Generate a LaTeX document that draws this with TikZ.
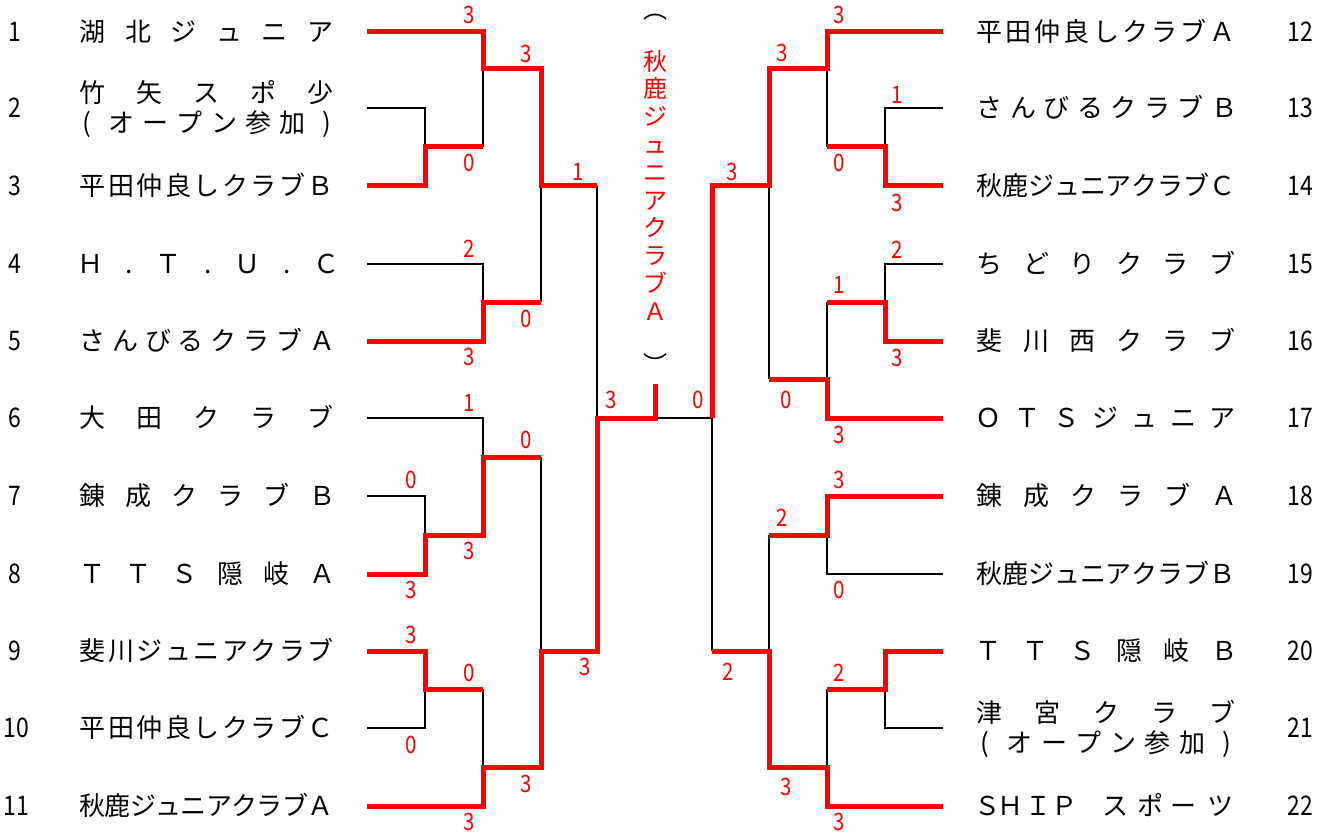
\documentclass[tikz,border=0pt]{standalone}
\usepackage{fontspec}
\setmainfont{Noto Sans CJK JP}
\newfontfamily\digitfont[FakeStretch=0.85]{Noto Sans CJK JP}
\newcommand\spreadname[5]{%
  \foreach \cc [count=\ci] in {#5}{\xdef\nch{\ci}}%
  \foreach \cc [count=\ci] in {#5}{%
    \node[nm] (#1-\ci) at ({#2+(#3-#2)*(\ci-1)/(\nch-1)}, #4) {\cc};}%
}
\tikzset{
  nm/.style={inner sep=0pt, text height=22.9pt, text depth=3.1pt, font=\fontsize{26}{30}\selectfont},
  num/.style={inner sep=0pt, text height=19.8pt, text depth=0pt, font=\digitfont\fontsize{27}{30}\selectfont},
  sc/.style={inner sep=0pt, text=red, text height=17.6pt, text depth=0pt, font=\digitfont\fontsize{24}{26}\selectfont},
  vt/.style={inner sep=0pt, text=red, text height=21.1pt, text depth=2.9pt, font=\fontsize{24}{28}\selectfont},
  par/.style={inner sep=0pt, font=\fontsize{24}{28}\selectfont},
  win/.style={draw=red, line width=5pt, line join=miter},
  lose/.style={draw=black, line width=1.5pt},
}
\begin{document}
\begin{tikzpicture}[x=1pt,y=-1pt]
\useasboundingbox (0,0) rectangle (1330,834);
% team line ends
\foreach \i/\yy in {1/32,2/108,3/186,4/264,5/341,6/418,7/496,8/574,9/651,10/728,11/806}
  \coordinate (t\i) at (367,\yy);
\foreach \i/\yy in {12/32,13/108,14/186,15/264,16/341,17/418,18/496,19/574,20/651,21/728,22/806}
  \coordinate (u\i) at (943,\yy);
% left matches
\coordinate (mA) at (425,147);
\coordinate (mB) at (483,69);
\coordinate (mC) at (483,302);
\coordinate (mD) at (541,186);
\coordinate (mE) at (425,535);
\coordinate (mF) at (483,457);
\coordinate (mG) at (425,689);
\coordinate (mH) at (483,767);
\coordinate (mI) at (541,651);
\coordinate (sL) at (597,418);
\coordinate (fin) at (655,418);
\coordinate (finTop) at (655,384);
% right matches
\coordinate (nA) at (885,147);
\coordinate (nB) at (827,69);
\coordinate (nC) at (885,302);
\coordinate (nD) at (827,379);
\coordinate (nE) at (769,186);
\coordinate (nF) at (827,535);
\coordinate (nG) at (885,689);
\coordinate (nH) at (827,767);
\coordinate (nI) at (769,651);
\coordinate (sR) at (712,418);

% losing (black) lines
\draw[lose] (t2) -| (mA);
\draw[lose] (mA -| mB) -- (mB);
\draw[lose] (t4) -| (mC);
\draw[lose] (mC -| mD) -- (mD);
\draw[lose] (mD -| sL) -- (sL);
\draw[lose] (t6) -| (mF);
\draw[lose] (t7) -| (mE);
\draw[lose] (mF -| mI) -- (mI);
\draw[lose] (t10) -| (mG);
\draw[lose] (mG -| mH) -- (mH);
\draw[lose] (u13) -| (nA);
\draw[lose] (nA -| nB) -- (nB);
\draw[lose] (u15) -| (nC);
\draw[lose] (nC -| nD) -- (nD);
\draw[lose] (nD -| nE) -- (nE);
\draw[lose] (u19) -| (nF);
\draw[lose] (u21) -| (nG);
\draw[lose] (nG -| nH) -- (nH);
\draw[lose] (nF -| nI) -- (nI);
\draw[lose] (nI -| sR) -- (sR) -- (fin);

% winning (red) lines
\draw[win] (t1) -| (mB) -| (mD) -- (mD -| sL);
\draw[win] (t3) -| (mA) -- (mA -| mB);
\draw[win] (t5) -| (mC) -- (mC -| mD);
\draw[win] (t8) -| (mE) -| (mF) -- (mF -| mI);
\draw[win] (t9) -| (mG) -- (mG -| mH);
\draw[win] (t11) -| (mH) -| (mI) -| (sL) -- (fin) -- (finTop);
\draw[win] (u12) -| (nB) -| (nE) -| (sR);
\draw[win] (u14) -| (nA) -- (nA -| nB);
\draw[win] (u16) -| (nC) -- (nC -| nD);
\draw[win] (u17) -| (nD) -- (nD -| nE);
\draw[win] (u18) -| (nF) -- (nF -| nI);
\draw[win] (u20) -| (nG) -- (nG -| nH);
\draw[win] (u22) -| (nH) -| (nI) -- (nI -| sR);

% scores
\foreach \xx/\yy/\ss [count=\ci] in {469/15/3, 526/54/3, 469/163/0, 578/172/1, 469/249/2, 526/319/0, 469/357/3, 469/403/1, 611/400/3, 526/440/0, 411/480/0, 469/551/3, 411/590/3, 411/635/3, 469/673/0, 585/667/3, 411/745/0, 526/784/3, 469/822/3}
  \node[sc] (sl\ci) at (\xx,\yy) {\ss};
\foreach \xx/\yy/\ss [count=\ci] in {839/15/3, 782/53/3, 897/95/1, 839/163/0, 732/172/3, 897/203/3, 897/250/2, 839/285/1, 897/358/3, 698/400/0, 786/400/0, 839/435/3, 839/480/3, 782/518/2, 839/590/0, 728/672/2, 839/673/2, 786/787/3, 839/822/3}
  \node[sc] (sr\ci) at (\xx,\yy) {\ss};

% champion (vertical)
\node[par] (popen) at (655,17) {︵};
\foreach \cc [count=\ci] in {秋,鹿,ジ,ュ,ニ,ア,ク,ラ,ブ,Ａ}
  \node[vt] (ch\ci) at (655,{61+27.8*(\ci-1)}) {\cc};
\node[par] (pclose) at (655,363) {︶};

% team numbers
\foreach \i/\yy in {1/32,2/108,3/186,4/264,5/341,6/418,7/496,8/574,9/651}
  \node[num] (n\i) at (15,\yy) {\i};
\node[num] (n10) at (16,728) {10};
\node[num] (n11) at (16,806) {11};
\foreach \i/\yy in {12/32,13/108,14/186,15/264,16/341,17/418,18/496,19/574,20/651,21/728,22/806}
  \node[num] (n\i) at (1300,\yy) {\i};

% left names
\spreadname{a1}{92.5}{320.5}{32}{湖,北,ジ,ュ,ニ,ア}
\spreadname{a2}{92.5}{320.5}{93}{竹,矢,ス,ポ,少}
\spreadname{b2}{87}{327}{123}{{(},オ,ー,プ,ン,参,加,{)}}
\spreadname{a3}{92.5}{320.5}{186}{平,田,仲,良,し,ク,ラ,ブ,Ｂ}
\spreadname{a4}{90}{326}{264}{Ｈ,.,Ｔ,.,Ｕ,.,Ｃ}
\spreadname{a5}{92.5}{322}{341}{さ,ん,び,る,ク,ラ,ブ,Ａ}
\spreadname{a6}{92.5}{320.5}{418}{大,田,ク,ラ,ブ}
\spreadname{a7}{92.5}{322}{496}{錬,成,ク,ラ,ブ,Ｂ}
\spreadname{a8}{92.5}{322}{574}{Ｔ,Ｔ,Ｓ,隠,岐,Ａ}
\spreadname{a9}{92.5}{320.5}{651}{斐,川,ジ,ュ,ニ,ア,ク,ラ,ブ}
\spreadname{a10}{92.5}{320.5}{728}{平,田,仲,良,し,ク,ラ,ブ,Ｃ}
\spreadname{a11}{92.5}{320.5}{806}{秋,鹿,ジ,ュ,ニ,ア,ク,ラ,ブ,Ａ}

% right names
\spreadname{a12}{989.5}{1222.5}{32}{平,田,仲,良,し,ク,ラ,ブ,Ａ}
\spreadname{a13}{989.5}{1224}{108}{さ,ん,び,る,ク,ラ,ブ,Ｂ}
\spreadname{a14}{989.5}{1222.5}{186}{秋,鹿,ジ,ュ,ニ,ア,ク,ラ,ブ,Ｃ}
\spreadname{a15}{989.5}{1222.5}{264}{ち,ど,り,ク,ラ,ブ}
\spreadname{a16}{989.5}{1222.5}{341}{斐,川,西,ク,ラ,ブ}
\spreadname{a17}{988}{1222.5}{418}{Ｏ,Ｔ,Ｓ,ジ,ュ,ニ,ア}
\spreadname{a18}{989.5}{1224}{496}{錬,成,ク,ラ,ブ,Ａ}
\spreadname{a19}{989.5}{1222.5}{574}{秋,鹿,ジ,ュ,ニ,ア,ク,ラ,ブ,Ｂ}
\spreadname{a20}{988}{1224}{651}{Ｔ,Ｔ,Ｓ,隠,岐,Ｂ}
\spreadname{a21}{989.5}{1222.5}{713}{津,宮,ク,ラ,ブ}
\spreadname{b21}{985}{1227}{743}{{(},オ,ー,プ,ン,参,加,{)}}
\foreach \xx/\cc [count=\ci] in {987/Ｓ,1010/Ｈ,1038/Ｉ,1064/Ｐ,1115/ス,1150/ポ,1183/ー,1220/ツ}
  \node[nm] (a22-\ci) at (\xx,806) {\cc};
\end{tikzpicture}
\end{document}
